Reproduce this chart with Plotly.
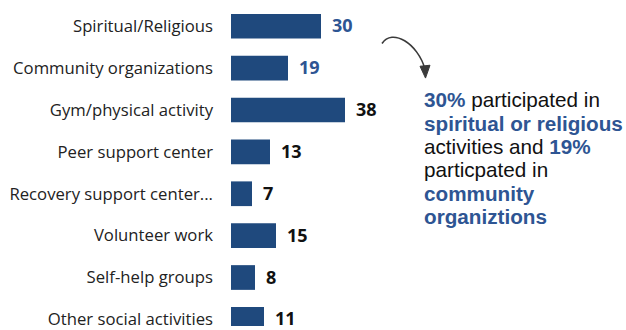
import plotly.graph_objects as go

categories = [
    "Spiritual/Religious",
    "Community organizations",
    "Gym/physical activity",
    "Peer support center",
    "Recovery support center...",
    "Volunteer work",
    "Self-help groups",
    "Other social activities",
]
values = [30, 19, 38, 13, 7, 15, 8, 11]
highlighted = [True, True, False, False, False, False, False, False]

BAR = "#1F497D"
BLUE = "#2E5593"
DARK = "#111111"

W, H = 626, 330
ML, MT = 231, 5
px_per_unit = 3.0
x_max = (W - ML) / px_per_unit

fig = go.Figure()
fig.add_trace(go.Bar(
    y=categories,
    x=values,
    orientation="h",
    marker=dict(color=BAR, line=dict(width=0)),
    hoverinfo="skip",
))

# value labels next to each bar
for cat, val, hl in zip(categories, values, highlighted):
    fig.add_annotation(
        x=val, y=cat, xref="x", yref="y",
        text=f"<b>{val}</b>", showarrow=False,
        xanchor="left", yanchor="middle", xshift=9, yshift=1,
        font=dict(family="Open Sans, Arial", size=18, color=BLUE if hl else DARK),
    )


def to_paper(px, py):
    return (px - ML) / (W - ML), 1 - (py - MT) / (H - MT)


def hl(s):
    return f"<b><span style='color:{BLUE}'>{s}</span></b>"


# callout text, one line per annotation for tight line spacing
callout_lines = [
    f"{hl('30%')} participated in",
    hl("spiritual or religious"),
    f"activities and {hl('19%')}",
    "particpated in",
    hl("community"),
    hl("organiztions"),
]
for i, line in enumerate(callout_lines):
    cx, cy = to_paper(422, 101 + i * 23.6)
    fig.add_annotation(
        x=cx, y=cy, xref="paper", yref="paper",
        text=line, showarrow=False, align="left",
        xanchor="left", yanchor="middle",
        font=dict(family="Liberation Sans, Arial", size=20.7, color="#111111"),
    )

# curved arrow
p0 = to_paper(382, 44)
c1 = to_paper(392, 28)
c2 = to_paper(418, 44)
p1 = to_paper(425, 70)
fig.add_shape(
    type="path", xref="paper", yref="paper",
    path=f"M {p0[0]},{p0[1]} C {c1[0]},{c1[1]} {c2[0]},{c2[1]} {p1[0]},{p1[1]}",
    line=dict(color="#3a3a3a", width=1.6),
)
h1 = to_paper(420, 67)
h2 = to_paper(430, 66)
tip = to_paper(425.5, 79)
fig.add_shape(
    type="path", xref="paper", yref="paper",
    path=f"M {h1[0]},{h1[1]} L {tip[0]},{tip[1]} L {h2[0]},{h2[1]} Z",
    line=dict(color="#3a3a3a", width=1), fillcolor="#3a3a3a",
)

row_px = 42.4
first_center = 26.5
bottom = (H - first_center) / row_px
top = -(first_center - MT) / row_px

fig.update_layout(
    width=W, height=H,
    margin=dict(l=ML, r=0, t=MT, b=0),
    paper_bgcolor="white", plot_bgcolor="white",
    bargap=0.41,
    showlegend=False,
    xaxis=dict(range=[0, x_max], visible=False, fixedrange=True),
    yaxis=dict(
        range=[bottom, top], showgrid=False, zeroline=False, showline=False,
        ticks="", ticklabelstandoff=17,
        tickfont=dict(family="Open Sans, Arial", size=16.7, color="#222222"),
        fixedrange=True,
    ),
)

fig.write_html("out.html", config={"displayModeBar": False})
